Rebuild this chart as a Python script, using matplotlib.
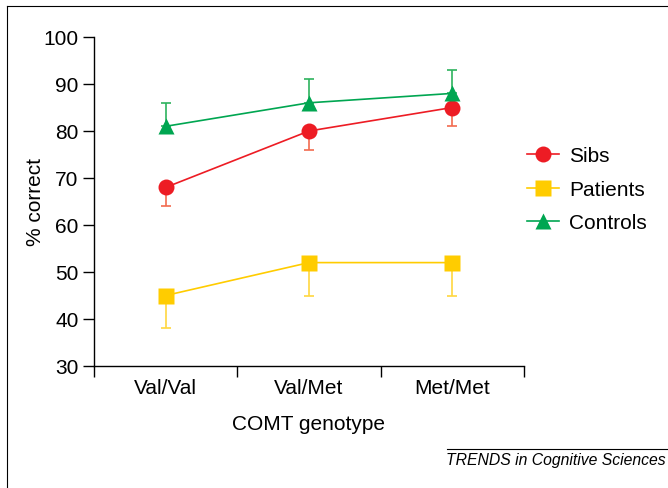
import numpy as np
import matplotlib.pyplot as plt
from matplotlib.lines import Line2D

plt.rcParams['font.family'] = ['Liberation Sans', 'DejaVu Sans']

genotypes = ['Val/Val', 'Val/Met', 'Met/Met']
sibs = [68, 80, 85]
sibs_err = [4, 4, 4]
patients = [45, 52, 52]
patients_err = [7, 7, 7]
controls = [81, 86, 88]
controls_err = [5, 5, 5]

W, H = 668, 489
fig = plt.figure(figsize=(W / 100, H / 100), dpi=100)
ax = fig.add_axes([94 / W, 1 - 367 / H, (524 - 94) / W, (367 - 38) / H])

x = np.arange(len(genotypes)) + 0.5
zero = [0, 0, 0]

series = [
    ('Sibs', sibs, [sibs_err, zero], '#ED1C24', '#F26B4F', 'o'),
    ('Patients', patients, [patients_err, zero], '#FFCC00', '#FFD740', 's'),
    ('Controls', controls, [zero, controls_err], '#00A651', '#2DB35E', '^'),
]
handles = []
for name, vals, err, col, ecol, mk in series:
    ax.errorbar(x, vals, yerr=err, fmt='none', ecolor=ecol, elinewidth=1.2,
                capsize=3.5, capthick=1.2, zorder=2)
    h, = ax.plot(x, vals, '-', color=col, lw=1.2, marker=mk, ms=11.5,
                 mec='none', zorder=3, label=name)
    handles.append(h)

fs = 15
ax.set_xlim(0, 3)
ax.set_ylim(30, 100)
ax.set_yticks(np.arange(30, 101, 10))
ax.set_xticks([0, 1, 2, 3])
ax.set_xticklabels([])
ax.set_xticks(x, minor=True)
ax.set_xticklabels(genotypes, minor=True)
ax.tick_params(axis='x', which='minor', length=0, pad=9, labelsize=fs)
ax.tick_params(axis='x', which='major', length=8, width=1)
ax.tick_params(axis='y', length=8, width=1, labelsize=fs, pad=3)
for s in ['top', 'right']:
    ax.spines[s].set_visible(False)
for s in ['left', 'bottom']:
    ax.spines[s].set_linewidth(1)

ax.set_xlabel('COMT genotype', fontsize=fs, labelpad=12)
ax.set_ylabel('% correct', fontsize=fs)
ax.yaxis.set_label_coords(-0.114, 0.5)

fig.legend(handles=handles, loc='upper left', bbox_to_anchor=(519 / W, 1 - 139 / H),
           frameon=False, fontsize=fs, handlelength=1.5, handletextpad=0.5,
           labelspacing=0.7, borderaxespad=0)

# figure frame and source line
fig.add_artist(Line2D([7 / W, 7 / W], [0, 1 - 7 / H], color='black', lw=0.8))
fig.add_artist(Line2D([7 / W, 1], [1 - 7 / H, 1 - 7 / H], color='black', lw=0.8))
fig.add_artist(Line2D([447 / W, 1], [1 - 450 / H, 1 - 450 / H], color='black', lw=0.8))
fig.text(666 / W, 1 - 461 / H, 'TRENDS in Cognitive Sciences', fontsize=11.3,
         style='italic', ha='right', va='center')

fig.savefig('out.png', dpi=100)
